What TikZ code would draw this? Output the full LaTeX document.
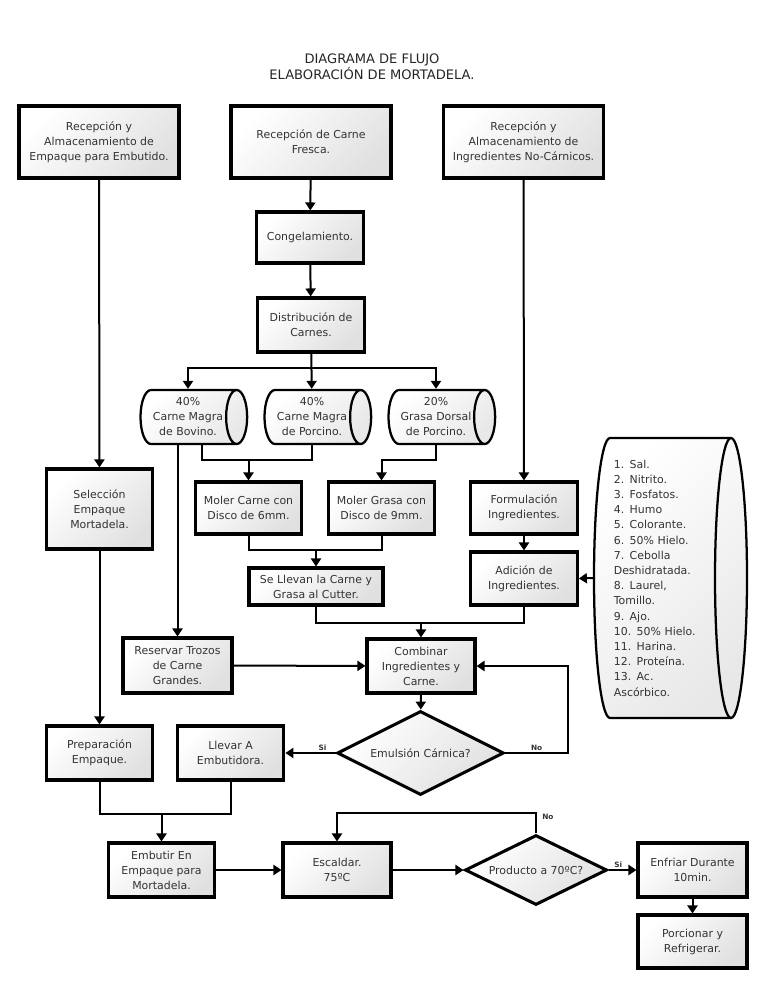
\documentclass[tikz,border=0pt]{standalone}
\usepackage{fontspec}
\setmainfont{DejaVu Sans}
\usetikzlibrary{shapes.geometric}
\usetikzlibrary{arrows.meta}

\tikzset{
    box/.style={draw, line width=2.3pt, top color=white, bottom color=black!12, shading angle=45,
        minimum width=80pt, minimum height=40.5pt, inner sep=1pt, align=center, text=black!80,
        font=\fontsize{8.2}{11.25}\selectfont},
    drum/.style={cylinder, draw, line width=1.7pt, shape aspect=0.55, top color=white, bottom color=black!9,
        shading angle=45, minimum height=80pt, minimum width=40.5pt, inner sep=0pt, align=center, text=black!80,
        font=\fontsize{8.2}{11.25}\selectfont},
    drumline/.style={line width=1.7pt, line join=round},
    query/.style={diamond, draw, line width=2.3pt, shape aspect=2, top color=white, bottom color=black!12,
        shading angle=45, inner sep=0pt, text=black!80, font=\fontsize{8.2}{11.25}\selectfont},
    line/.style={line width=1.5pt},
    arr/.style={line, -{Triangle[length=6pt,width=7.5pt]}},
    tag/.style={font=\fontsize{5.5}{6}\selectfont\bfseries, inner sep=1pt, text=black!80},
}

\begin{document}
\begin{tikzpicture}[x=0.75pt, y=-0.75pt]
    \path[use as bounding box, fill=white] (0,0) rectangle (768,994);

    \node[align=center, text=black!85, font=\fontsize{9.8}{10.7}\selectfont] (titulo) at (372,67) {DIAGRAMA DE FLUJO\\ELABORACIÓN DE MORTADELA.};

    \node[box, minimum width=120pt, minimum height=54pt] (recemp) at (99,142) {Recepción y\\Almacenamiento de\\Empaque para Embutido.};
    \node[box, minimum width=120pt, minimum height=54pt] (recarne) at (311,142) {Recepción de Carne\\Fresca.};
    \node[box, minimum width=120pt, minimum height=54pt] (recing) at (523.5,142) {Recepción y\\Almacenamiento de\\Ingredientes No-Cárnicos.};

    \node[box, minimum height=38.25pt] (cong) at (310,237.5) {Congelamiento.};
    \node[box] (dist) at (311,325) {Distribución de\\Carnes.};

    \node[drum] (magbov) at (188,417) {40\%\\Carne Magra\\de Bovino.};
    \node[drum] (magpor) at (312,417) {40\%\\Carne Magra\\de Porcino.};
    \node[drum] (grapor) at (436,417) {20\%\\Grasa Dorsal\\de Porcino.};

    \node[box, minimum height=60pt] (sel) at (99.5,509) {Selección\\Empaque\\Mortadela.};
    \node[box, minimum height=39pt] (molc) at (248.5,508) {Moler Carne con\\Disco de 6mm.};
    \node[box, minimum height=39pt] (molg) at (381.5,508) {Moler Grasa con\\Disco de 9mm.};
    \node[box, minimum width=100.5pt, minimum height=27.75pt] (cut) at (316,586.5) {Se Llevan la Carne y\\Grasa al Cutter.};
    \node[box, minimum height=39pt] (form) at (524,508) {Formulación\\Ingredientes.};
    \node[box, minimum height=39.75pt] (adic) at (524,578.5) {Adición de\\Ingredientes.};

    \path[drumline, draw, top color=white, bottom color=black!9, shading angle=45]
        (610,438) -- (731,438) arc[start angle=90, end angle=-90, x radius=12pt, y radius=105pt]
        -- (610,718) arc[start angle=270, end angle=90, x radius=12pt, y radius=105pt] -- cycle;
    \draw[drumline] (731,438) arc[start angle=90, end angle=270, x radius=12pt, y radius=105pt];
    \node[minimum width=114.75pt, minimum height=210pt, inner sep=0pt, align=left, text width=85pt,
        text=black!80, font=\fontsize{8.2}{11.4}\selectfont] (lista) at (670.5,578)
        {1. Sal.\\2. Nitrito.\\3. Fosfatos.\\4. Humo\\5. Colorante.\\6. 50\% Hielo.\\7. Cebolla\\Deshidratada.\\8. Laurel,\\Tomillo.\\9. Ajo.\\10. 50\% Hielo.\\11. Harina.\\12. Proteína.\\13. Ac.\\Ascórbico.};

    \node[box, minimum width=81.75pt, minimum height=41.25pt] (res) at (177.5,665.5) {Reservar Trozos\\de Carne\\Grandes.};
    \node[box, minimum width=81pt] (comb) at (421,666) {Combinar\\Ingredientes y\\Carne.};
    \node[query, minimum width=125pt, minimum height=63pt] (emul) at (420.5,753) {Emulsión Cárnica?};
    \node[box] (llev) at (230.5,753) {Llevar A\\Embutidora.};
    \node[box] (prep) at (99.5,753) {Preparación\\Empaque.};

    \node[box] (emb) at (161.5,870) {Embutir En\\Empaque para\\Mortadela.};
    \node[box, minimum width=81pt] (esc) at (337,870) {Escaldar.\\75ºC};
    \node[query, minimum width=106.5pt, minimum height=52.5pt] (prod) at (536,870) {Producto a 70ºC?};
    \node[box, minimum width=81.75pt] (enf) at (692.5,870) {Enfriar Durante\\10min.};
    \node[box, minimum width=81.75pt, minimum height=39.75pt] (porc) at (692.5,941.5) {Porcionar y\\Refrigerar.};

    \coordinate (split) at (311,368);
    \coordinate (jmc) at (molc.north |- 0,460);
    \coordinate (jmg) at (molg.north |- 0,460);
    \coordinate (jcut) at (cut.north |- 0,550);
    \coordinate (jcomb) at (comb.north |- 0,623);
    \coordinate (vuelta) at (568,753);
    \coordinate (jemb) at (emb.north |- 0,814);
    \coordinate (vuelta2) at (esc.north |- 0,813);

    \draw[arr] (recemp) -- (sel);
    \draw[arr] (sel) -- (prep);
    \draw[arr] (recarne) -- (cong);
    \draw[arr] (cong) -- (dist);
    \draw[arr] (dist) -- (magpor);
    \draw[arr] (split) -| (magbov.north);
    \draw[arr] (split) -| (grapor.north);
    \draw[arr] (recing) -- (form);
    \draw[arr] (form) -- (adic);
    \draw[arr] (lista.west) -- (adic.east);

    \draw[line] ([xshift=10.5pt]magbov.south) |- (jmc) -| (magpor.south);
    \draw[arr] (jmc) -- (molc);
    \draw[arr] (grapor.south) |- (jmg) -- (molg);
    \draw[arr] (magbov.south -| res.north) -- (res);
    \draw[line] (molc) |- (jcut) -| (molg);
    \draw[arr] (jcut) -- (cut);
    \draw[line] (cut) |- (jcomb) -| (adic);
    \draw[arr] (jcomb) -- (comb);
    \draw[arr] (res) -- (comb);
    \draw[arr] (comb) -- (emul);
    \draw[arr] (emul.west) -- node[tag, pos=0.26, above] {Si} (llev.east);
    \draw[arr] (emul.east) -- node[tag, pos=0.5, above] {No} (vuelta) |- (comb.east);

    \draw[line] (prep) |- (jemb) -| (llev);
    \draw[arr] (jemb) -- (emb);
    \draw[arr] (emb) -- (esc);
    \draw[arr] (esc) -- (prod);
    \draw[arr] (prod.north) |- node[tag, pos=0.4, right=3pt] {No} (vuelta2) -- (esc.north);
    \draw[arr] (prod.east) -- node[tag, pos=0.35, above] {Si} (enf.west);
    \draw[arr] (enf) -- (porc);
\end{tikzpicture}
\end{document}
